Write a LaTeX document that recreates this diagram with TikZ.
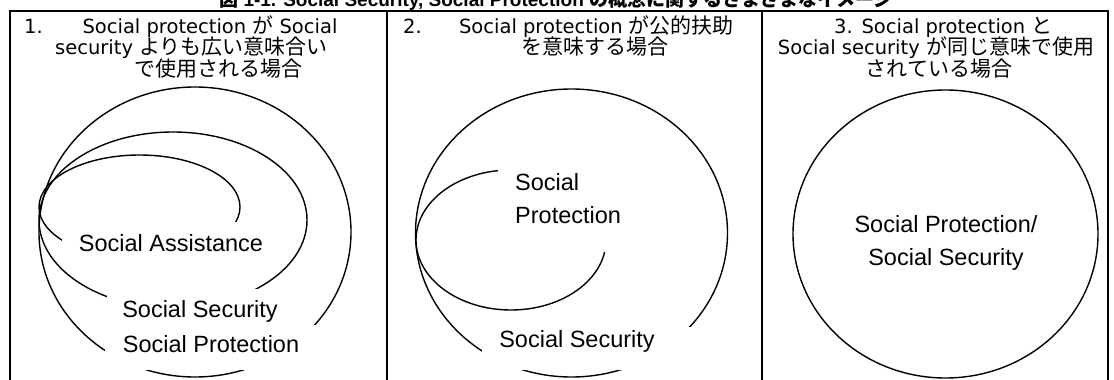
\documentclass[tikz,border=0pt]{standalone}
\usepackage{fontspec}
\usetikzlibrary{shapes.geometric}
\setmainfont{Liberation Sans}
\newfontfamily\hdrfont{DejaVu Sans}
\newfontfamily\jpfont{Noto Sans CJK JP}
\newcommand{\J}[1]{{\jpfont\fontsize{21}{21.5}\selectfont #1}}
\newcommand{\JB}[1]{{\jpfont\bfseries #1}}
\begin{document}
\begin{tikzpicture}[x=1pt,y=-1pt,
  frame/.style={line width=2pt},
  ring/.style={draw, ellipse, line width=1.4pt, inner sep=0pt},
  cover/.style={fill=white, inner sep=0pt},
  lbl/.style={font=\fontsize{23.5}{33}\selectfont, inner sep=0pt, anchor=base},
  hdr/.style={font=\hdrfont\fontsize{19.5}{21.5}\selectfont, inner sep=0pt, anchor=base},
  ttl/.style={font=\bfseries\fontsize{19}{19}\selectfont, inner sep=0pt, anchor=base},
  ]
\useasboundingbox (0,0) rectangle (1114,380);
\clip (0,0) rectangle (1114,380);
% title (clipped by the page top)
\node[ttl] (title) at (556,6) {\JB{図} 1-1. Social Security, Social Protection \JB{の概念に関するさまざまなイメージ}};
% table frame
\coordinate (tl) at (10,11);
\coordinate (tr) at (1108,11);
\draw[frame] (9,11) -- (1109,11);
\draw[frame] (10,11) -- (10,382);
\draw[frame] (387,11) -- (387,382);
\draw[frame] (762,11) -- (762,382);
\draw[frame] (1108,11) -- (1108,382);
% headers
\node[hdr] (n1) at (33.5,33) {1.};
\node[hdr] (h1a) at (210,33) {Social protection \J{が} Social};
\node[hdr] (h1b) at (191.5,54.5) {security \J{よりも広い意味合い}};
\node[hdr] (h1c) at (218.5,76) {\J{で使用される場合}};
\node[hdr] (n2) at (412.5,33) {2.};
\node[hdr] (h2a) at (596.5,33) {Social protection \J{が公的扶助}};
\node[hdr] (h2b) at (595,54.5) {\J{を意味する場合}};
\node[hdr] (n3) at (843.5,33) {3.};
\node[hdr] (h3a) at (957,33) {Social protection \J{と}};
\node[hdr] (h3b) at (936,54.5) {Social security \J{が同じ意味で使用}};
\node[hdr] (h3c) at (939,76) {\J{されている場合}};
% panel 1
\node[ring, minimum width=312pt, minimum height=290pt] (sp1) at (195,232) {};
\node[ring, minimum width=268pt, minimum height=176pt] (ss1) at (173,220) {};
\node[ring, minimum width=201pt, minimum height=104pt] (sa1) at (139.5,207) {};
\node[cover, minimum width=218pt, minimum height=40pt] (csa1) at (171,242) {};
\node[cover, minimum width=186pt, minimum height=41pt] (css1) at (200,309.5) {};
\node[cover, minimum width=212pt, minimum height=45pt] (csp1) at (211,347.5) {};
\node[lbl] (tsa1) at (171,251) {Social Assistance};
\node[lbl] (tss1) at (200,317) {Social Security};
\node[lbl] (tsp1) at (211,352) {Social Protection};
% panel 2
\node[ring, minimum width=312pt, minimum height=288pt] (ss2) at (571.5,233) {};
\node[ring, minimum width=190pt, minimum height=140pt] (sp2) at (511,240) {};
\node[cover, minimum width=218pt, minimum height=43pt] (css2) at (591,348.5) {};
\node[cover, minimum width=132pt, minimum height=92pt] (csp2) at (564,206) {};
\node[lbl] (tss2) at (577,347) {Social Security};
\node[lbl, anchor=base west] (tsp2a) at (515,190) {Social};
\node[lbl, anchor=base west] (tsp2b) at (515,223) {Protection};
% panel 3
\node[ring, minimum width=305pt, minimum height=288pt] (sp3) at (945.5,234) {};
\node[lbl] (tsp3a) at (946,232) {Social Protection/};
\node[lbl] (tsp3b) at (946,265) {Social Security};
\end{tikzpicture}
\end{document}
